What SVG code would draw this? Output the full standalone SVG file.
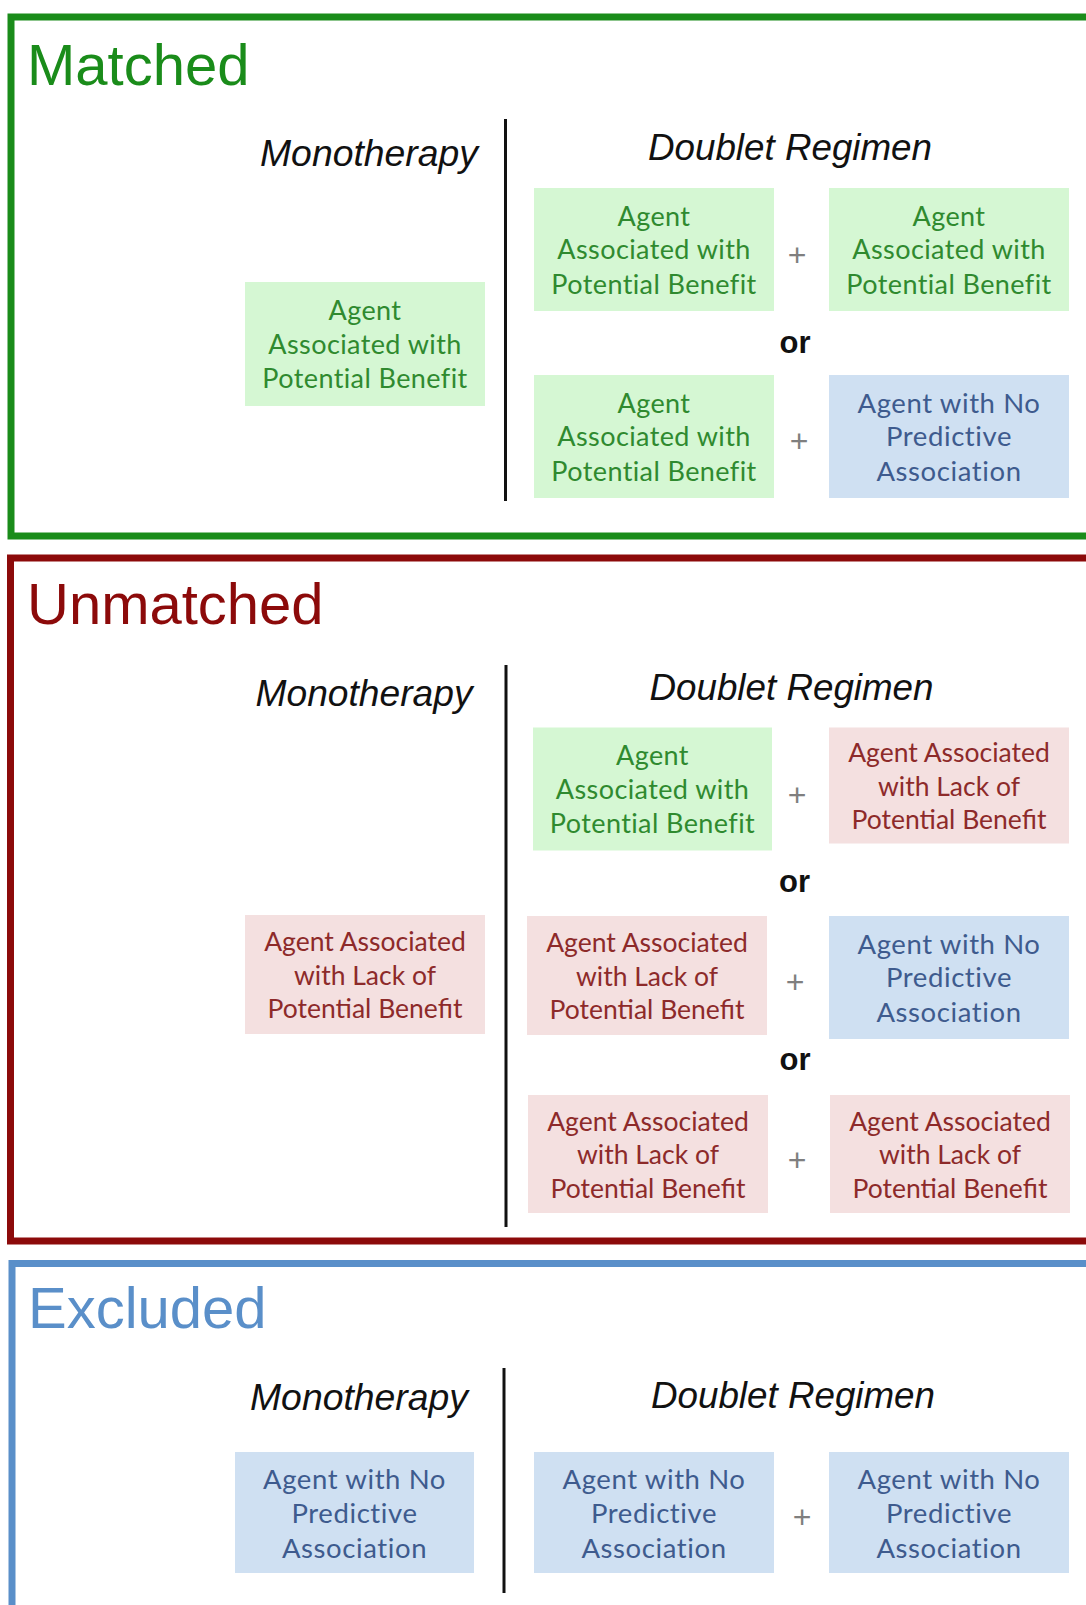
<svg xmlns="http://www.w3.org/2000/svg" width="1086" height="1605" viewBox="0 0 1086 1605">
<style>
.sec{fill:none;stroke-width:7}
.title{font-family:"Liberation Sans",Arial,sans-serif;font-size:58px}
.hdr{font-family:"Liberation Sans",Arial,sans-serif;font-style:italic;font-size:36px;fill:#111}
.div{stroke:#111;stroke-width:3}
.bt{font-family:Lato,"Open Sans",sans-serif;font-size:27px;text-anchor:middle}
.g rect{fill:#d5f7d3}.g text{fill:#2f8a2f;letter-spacing:0.4px}
.b rect{fill:#cfe0f2}.b text{fill:#3e5b8e;font-size:27.5px;letter-spacing:0.6px}
.r rect{fill:#f4e0e0}.r text{fill:#8d2a2a;font-size:26.5px}
.plus{font-family:"Liberation Sans",Arial,sans-serif;font-size:32px;fill:#7f7f7f;text-anchor:middle}
.or{font-family:"Liberation Sans",Arial,sans-serif;font-size:31px;font-weight:bold;fill:#111;text-anchor:middle}
</style>
<g id="matched">
<rect class="sec" x="11" y="17" width="1100" height="519" stroke="#1a8c1a"/>
<text class="title" x="27" y="85" fill="#1a8c1a">Matched</text>
<text class="hdr" x="260" y="166" textLength="218" lengthAdjust="spacingAndGlyphs">Monotherapy</text>
<text class="hdr" x="648" y="160" textLength="284" lengthAdjust="spacingAndGlyphs">Doublet Regimen</text>
<line class="div" x1="505.5" y1="119" x2="505.5" y2="501"/>
<g id="m-mono" class="g"><rect x="245" y="282" width="240" height="124"/><text class="bt"><tspan x="365" y="320">Agent</tspan><tspan x="365" y="353.5">Associated with</tspan><tspan x="365" y="388">Potential Benefit</tspan></text></g>
<g id="m-d1a" class="g"><rect x="534" y="188" width="240" height="123"/><text class="bt"><tspan x="654" y="225.5">Agent</tspan><tspan x="654" y="259">Associated with</tspan><tspan x="654" y="293.5">Potential Benefit</tspan></text></g>
<g id="m-d1b" class="g"><rect x="829" y="188" width="240" height="123"/><text class="bt"><tspan x="949" y="225.5">Agent</tspan><tspan x="949" y="259">Associated with</tspan><tspan x="949" y="293.5">Potential Benefit</tspan></text></g>
<g id="m-d2a" class="g"><rect x="534" y="375" width="240" height="123"/><text class="bt"><tspan x="654" y="412.5">Agent</tspan><tspan x="654" y="446">Associated with</tspan><tspan x="654" y="480.5">Potential Benefit</tspan></text></g>
<g id="m-d2b" class="b"><rect x="829" y="375" width="240" height="123"/><text class="bt"><tspan x="949" y="412.5">Agent with No</tspan><tspan x="949" y="446">Predictive</tspan><tspan x="949" y="480.5">Association</tspan></text></g>
<text class="plus" x="797" y="266">+</text>
<text class="plus" x="799" y="452">+</text>
<text class="or" x="795" y="353">or</text>
</g>
<g id="unmatched">
<rect class="sec" x="10.5" y="558" width="1100" height="683" stroke="#8c0a0a"/>
<text class="title" x="27" y="624" fill="#8c0a0a">Unmatched</text>
<text class="hdr" x="255.5" y="706" textLength="217" lengthAdjust="spacingAndGlyphs">Monotherapy</text>
<text class="hdr" x="649.5" y="700" textLength="284" lengthAdjust="spacingAndGlyphs">Doublet Regimen</text>
<line class="div" x1="506" y1="665" x2="506" y2="1227"/>
<g id="u-mono" class="r"><rect x="245" y="915" width="240" height="119"/><text class="bt"><tspan x="365" y="951">Agent Associated</tspan><tspan x="365" y="984.5">with Lack of</tspan><tspan x="365" y="1018">Potential Benefit</tspan></text></g>
<g id="u-d1a" class="g"><rect x="533" y="727.5" width="239" height="123"/><text class="bt"><tspan x="652.5" y="765">Agent</tspan><tspan x="652.5" y="798.5">Associated with</tspan><tspan x="652.5" y="833">Potential Benefit</tspan></text></g>
<g id="u-d1b" class="r"><rect x="829" y="727.5" width="240" height="116"/><text class="bt"><tspan x="949" y="762">Agent Associated</tspan><tspan x="949" y="795.5">with Lack of</tspan><tspan x="949" y="829">Potential Benefit</tspan></text></g>
<g id="u-d2a" class="r"><rect x="527" y="916" width="240" height="119"/><text class="bt"><tspan x="647" y="952">Agent Associated</tspan><tspan x="647" y="985.5">with Lack of</tspan><tspan x="647" y="1019">Potential Benefit</tspan></text></g>
<g id="u-d2b" class="b"><rect x="829" y="916" width="240" height="123"/><text class="bt"><tspan x="949" y="953.5">Agent with No</tspan><tspan x="949" y="987">Predictive</tspan><tspan x="949" y="1021.5">Association</tspan></text></g>
<g id="u-d3a" class="r"><rect x="528" y="1095" width="240" height="118"/><text class="bt"><tspan x="648" y="1130.5">Agent Associated</tspan><tspan x="648" y="1164">with Lack of</tspan><tspan x="648" y="1197.5">Potential Benefit</tspan></text></g>
<g id="u-d3b" class="r"><rect x="830" y="1095" width="240" height="118"/><text class="bt"><tspan x="950" y="1130.5">Agent Associated</tspan><tspan x="950" y="1164">with Lack of</tspan><tspan x="950" y="1197.5">Potential Benefit</tspan></text></g>
<text class="plus" x="797" y="806">+</text>
<text class="plus" x="795" y="993">+</text>
<text class="plus" x="797" y="1171">+</text>
<text class="or" x="794.5" y="892">or</text>
<text class="or" x="795" y="1070">or</text>
</g>
<g id="excluded">
<rect class="sec" x="12" y="1263.5" width="1100" height="500" stroke="#5a8fc9"/>
<text class="title" x="28" y="1328" fill="#5a8fc9">Excluded</text>
<text class="hdr" x="250" y="1410" textLength="218" lengthAdjust="spacingAndGlyphs">Monotherapy</text>
<text class="hdr" x="651" y="1408" textLength="284" lengthAdjust="spacingAndGlyphs">Doublet Regimen</text>
<line class="div" x1="504" y1="1368" x2="504" y2="1593"/>
<g id="e-mono" class="b"><rect x="235" y="1452" width="239" height="121"/><text class="bt"><tspan x="354.5" y="1489">Agent with No</tspan><tspan x="354.5" y="1523">Predictive</tspan><tspan x="354.5" y="1558">Association</tspan></text></g>
<g id="e-d1a" class="b"><rect x="534" y="1452" width="240" height="121"/><text class="bt"><tspan x="654" y="1489">Agent with No</tspan><tspan x="654" y="1523">Predictive</tspan><tspan x="654" y="1558">Association</tspan></text></g>
<g id="e-d1b" class="b"><rect x="829" y="1452" width="240" height="121"/><text class="bt"><tspan x="949" y="1489">Agent with No</tspan><tspan x="949" y="1523">Predictive</tspan><tspan x="949" y="1558">Association</tspan></text></g>
<text class="plus" x="802" y="1528">+</text>
</g>
</svg>
